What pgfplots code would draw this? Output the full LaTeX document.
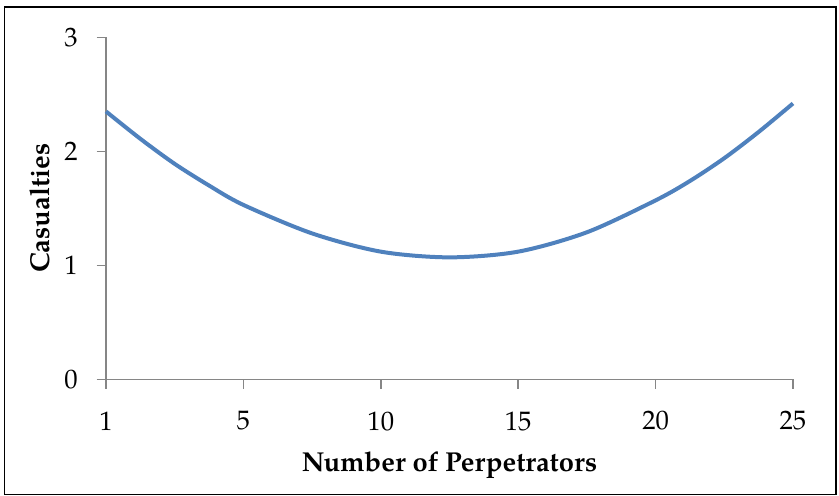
\documentclass[border=0pt]{standalone}
\usepackage{fontspec}
\setmainfont{TeX Gyre Pagella}
\usepackage{pgfplots}
\pgfplotsset{compat=1.18}
\definecolor{lineblue}{HTML}{4F81BD}
\definecolor{axisgray}{HTML}{868686}
\begin{document}
\begin{tikzpicture}
\begin{axis}[
  width=515.25pt, height=256.5pt,
  scale only axis,
  xmin=0, xmax=5, ymin=0, ymax=3,
  xtick={0,1,2,3,4,5},
  xticklabels={1,5,10,15,20,25},
  ytick={0,1,2,3},
  axis x line*=bottom, axis y line*=left,
  axis line style={axisgray, line width=1.1pt, -},
  tick style={axisgray, line width=1.1pt},
  tick align=outside, major tick length=7pt,
  /pgf/number format/assume math mode=true,
  ticklabel style={font=\fontsize{20}{22}\selectfont},
  yticklabel style={anchor=east, inner sep=0pt, xshift=-14pt},
  xticklabel style={anchor=north, inner sep=0pt, yshift=-17pt},
  xlabel={\textbf{Number of Perpetrators}},
  ylabel={\textbf{Casualties}},
  label style={font=\fontsize{20.5}{22}\selectfont},
  xlabel style={at={(axis description cs:0.5,-0.251)}, anchor=center},
  ylabel style={at={(axis description cs:-0.096,0.5)}, anchor=center},
  clip=false,
]
% values at and between the category ticks
\addplot[lineblue, line width=3pt, smooth] coordinates {
  (0,2.35) (0.25,2.11) (0.5,1.89) (0.75,1.70) (1,1.53) (1.5,1.28)
  (2,1.12) (2.5,1.07) (3,1.12) (3.5,1.29) (4,1.57) (4.25,1.74)
  (4.5,1.94) (4.75,2.17) (5,2.42)
};
\end{axis}
\draw[black, line width=1pt] (-76.5pt+0.5pt,-86.25pt) rectangle (515.25pt+32.25pt,256.5pt+22.7pt);
\path (-79.5pt,-87.5pt) rectangle (515.25pt+34.5pt,256.5pt+28pt);
\end{tikzpicture}
\end{document}
